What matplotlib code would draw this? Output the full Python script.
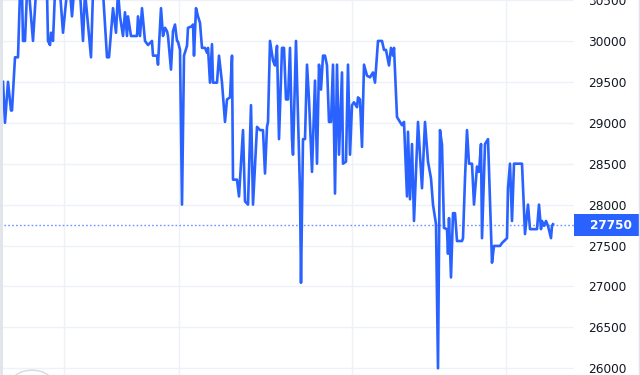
import matplotlib
matplotlib.use("Agg")
import matplotlib.pyplot as plt
from matplotlib.patches import Rectangle, Circle
from matplotlib.lines import Line2D
import matplotlib.transforms as mtransforms

# time position (chart time units) and price values
t = [3, 5, 8, 11, 12, 15, 18, 20, 22, 23, 25, 27, 29, 33, 36, 47, 48, 50, 51, 53,
     55, 60, 63, 67, 70, 72, 74, 80, 83, 85, 91, 93, 103, 107, 109, 113, 116, 118, 120, 123,
     125, 127, 128, 131, 134, 137, 138, 140, 142, 145, 148, 152, 153, 157, 158, 161, 163, 165, 167, 168,
     171, 173, 175, 177, 178, 180, 182, 184, 187, 188, 192, 193, 194, 196, 198, 200, 202, 205, 207, 208,
     210, 212, 213, 217, 219, 222, 225, 227, 230, 232, 233, 237, 239, 243, 245, 248, 251, 253, 257, 260,
     263, 265, 267, 268, 270, 273, 275, 277, 279, 282, 284, 286, 288, 290, 292, 293, 296, 300, 301, 303,
     305, 307, 309, 312, 315, 317, 319, 321, 323, 325, 327, 329, 331, 333, 335, 337, 339, 342, 343, 346,
     348, 350, 352, 354, 357, 358, 360, 362, 364, 367, 370, 373, 375, 378, 382, 384, 386, 389, 391, 393,
     394, 397, 400, 402, 404, 407, 408, 410, 412, 414, 417, 418, 422, 425, 428, 431, 433, 436, 438, 440,
     442, 444, 447, 448, 449, 451, 453, 455, 457, 462, 463, 465, 467, 469, 472, 474, 477, 479, 481, 482,
     485, 488, 492, 494, 500, 502, 507, 508, 510, 512, 514, 522, 525, 528, 530, 537, 539, 541, 542, 544,
     546, 548, 551, 552, 553]
price = [29500, 29000, 29500, 29150, 29150, 29800, 29800, 30600, 30600, 30000, 30000, 30600, 30600, 30000, 30600, 30600, 30000, 29950, 30100, 30000,
         30600, 30600, 30100, 30600, 30600, 30300, 30600, 30600, 30000, 30600, 29800, 30600, 30600, 29800, 29800, 30400, 30100, 30600, 30300, 30060,
         30350, 30060, 30300, 30060, 30060, 30060, 30300, 30060, 30400, 30000, 29950, 30000, 29820, 29820, 29710, 30400, 30060, 30160, 30120, 30060,
         29650, 30120, 30200, 30000, 29990, 29890, 28000, 29820, 29940, 30160, 30180, 30200, 29820, 30400, 30300, 30220, 29915, 29915, 29855, 29915,
         29490, 29960, 29490, 29490, 29820, 29490, 29010, 29285, 29310, 29820, 28305, 28305, 28100, 28910, 28040, 28000, 29215, 28000, 28950, 28910,
         28910, 28380, 28950, 29010, 30000, 29760, 29700, 29940, 28800, 29915, 29915, 29285, 29285, 29915, 28800, 28610, 30000, 28160, 27045, 28800,
         28800, 29710, 29285, 28400, 29515, 28500, 29710, 29405, 29820, 29820, 29700, 29010, 29010, 29710, 28135, 29710, 28610, 29615, 28500, 28525,
         29710, 28610, 29215, 29250, 29190, 29310, 29285, 28705, 29710, 29575, 29555, 29615, 29490, 30000, 30000, 29890, 29890, 29700, 29915, 29820,
         29915, 29070, 29010, 28970, 29010, 28100, 28890, 28065, 28740, 27800, 28730, 29010, 28200, 29010, 28525, 28320, 28000, 27760, 26000, 28910,
         28730, 27715, 27700, 27400, 27835, 27110, 27895, 27895, 27555, 27555, 27590, 28320, 28910, 28500, 28500, 28000, 28465, 28400, 28740, 27590,
         28740, 28800, 27290, 27495, 27495, 27530, 27590, 28200, 28500, 27800, 28500, 28500, 27640, 28000, 27700, 27700, 28000, 27700, 27800, 27740,
         27800, 27740, 27590, 27740, 27760]

price_ticks = [26000, 26500, 27000, 27500, 28000, 28500, 29000, 29500, 30000, 30500]
time_grid = [64, 179, 352, 506]
last_price = 27750

BLUE = "#2962FF"
W, H = 640, 375
fig = plt.figure(figsize=(W / 100, H / 100), dpi=100)
fig.patch.set_facecolor("white")
ax = fig.add_axes([0, 0, 574 / W, 1])
ax.set_facecolor("white")

ax.plot(t, price, color=BLUE, linewidth=1.9, solid_joinstyle="round", zorder=3)
ax.axhline(last_price, color="#6f95ff", linestyle=(0, (1.2, 1.6)), linewidth=1.0, zorder=2)

ax.set_xlim(0, 574)
ax.set_ylim(25918, 30461)

ax.set_yticks(price_ticks)
ax.set_yticklabels([str(v) for v in price_ticks])
ax.set_xticks(time_grid)
ax.set_xticklabels([])
ax.yaxis.tick_right()
ax.tick_params(axis="y", length=0, pad=10, labelsize=8.7, labelcolor="#131722")
ax.tick_params(axis="x", length=0)
ax.grid(True, color="#eef1f7", linewidth=1.0, zorder=0)
for s in ax.spines.values():
    s.set_visible(False)

# last price label box
trans = mtransforms.blended_transform_factory(fig.transFigure, ax.transData)
box_h = 23 / H * (30461 - 25918)
ax.add_patch(Rectangle((574 / W, last_price - box_h / 2), 66 / W, box_h,
                       transform=trans, facecolor=BLUE, edgecolor="none",
                       clip_on=False, zorder=5))
ax.text(590 / W, last_price, str(last_price), transform=trans, color="white",
        fontsize=8.7, fontweight="bold", va="center", ha="left", zorder=6,
        clip_on=False)

# borders
fig.add_artist(Line2D([1.3 / W, 1.3 / W], [0, 1], color="#e0e3eb", linewidth=2.0,
                      transform=fig.transFigure))
fig.add_artist(Line2D([638.5 / W, 638.5 / W], [0, 1], color="#e0e3eb", linewidth=1.0,
                      transform=fig.transFigure))
# decorative round button at bottom-left
fig.add_artist(Circle((32 / W, (H - 382) / H), 20 / W, transform=fig.transFigure,
                      facecolor="white", edgecolor="#d6d9e0", linewidth=1.0))

fig.savefig("out.png", dpi=100)
